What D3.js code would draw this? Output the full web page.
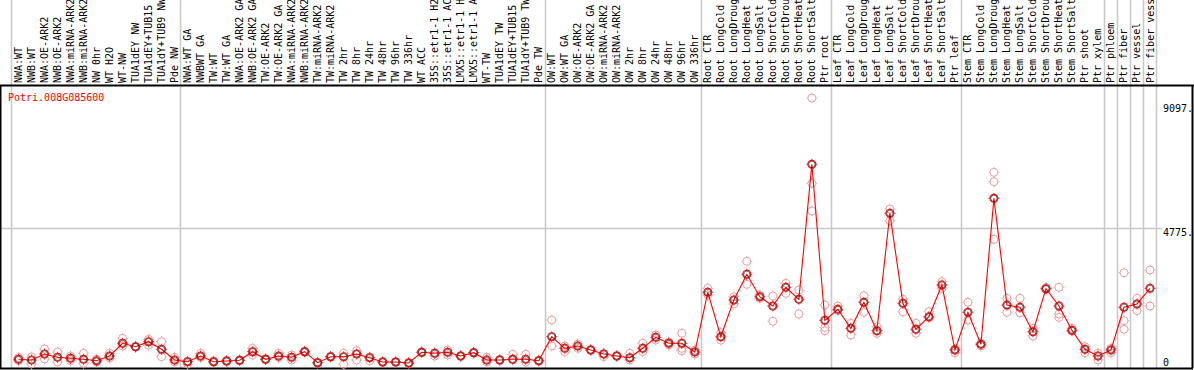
<!DOCTYPE html>
<html>
<head>
<meta charset="utf-8">
<script src="https://cdn.jsdelivr.net/npm/d3@7"></script>
<style>
  body { margin: 0; background: #fff; }
  svg { display: block; }
  text { font-family: "DejaVu Sans Mono", "Liberation Mono", monospace; font-size: 10px; }
</style>
</head>
<body>
<div id="chart"></div>
<script>
// Sample names (column headers)
const samples = [
  'NWA:WT', 'NWB:WT', 'NWA:OE-ARK2', 'NWB:OE-ARK2', 'NWA:miRNA-ARK2', 'NWB:miRNA-ARK2',
  'NW 0hr', 'WT H2O', 'WT-NW', 'TUA1dEY NW', 'TUA1dEY+TUB15', 'TUA1dY+TUB9 NW', 'Pde NW',
  'NWA:WT GA', 'NWBWT GA', 'TW:WT', 'TW:WT GA', 'NWA:OE-ARK2 GA', 'NWB:OE-ARK2 GA',
  'TW:OE-ARK2', 'TW:OE-ARK2 GA', 'NWA:miRNA-ARK2', 'NWB:miRNA-ARK2', 'TW:miRNA-ARK2',
  'TW:miRNA-ARK2', 'TW 2hr', 'TW 8hr', 'TW 24hr', 'TW 48hr', 'TW 96hr', 'TW 336hr', 'WT ACC',
  '35S::etr1-1 H2', '35S::etr1-1 AC', 'LMX5::etr1-1 H', 'LMX5::etr1-1 A', 'WT-TW',
  'TUA1dEY TW', 'TUA1dEY+TUB15', 'TUA1dY+TUB9 TW', 'Pde TW',
  'OW:WT', 'OW:WT GA', 'OW:OE-ARK2', 'OW:OE-ARK2 GA', 'OW:miRNA-ARK2', 'OW:miRNA-ARK2',
  'OW 2hr', 'OW 8hr', 'OW 24hr', 'OW 48hr', 'OW 96hr', 'OW 336hr',
  'Root CTR', 'Root LongCold', 'Root LongDroug', 'Root LongHeat', 'Root LongSalt',
  'Root ShortCold', 'Root ShortDrou', 'Root ShortHeat', 'Root ShortSalt', 'Ptr root',
  'Leaf CTR', 'Leaf LongCold', 'Leaf LongDroug', 'Leaf LongHeat', 'Leaf LongSalt',
  'Leaf ShortCold', 'Leaf ShortDrou', 'Leaf ShortHeat', 'Leaf ShortSalt', 'Ptr leaf',
  'Stem CTR', 'Stem LongCold', 'Stem LongDroug', 'Stem LongHeat', 'Stem LongSalt',
  'Stem ShortCold', 'Stem ShortDrou', 'Stem ShortHeat', 'Stem ShortSalt', 'Ptr shoot',
  'Ptr xylem', 'Ptr phloem', 'Ptr fiber', 'Ptr vessel', 'Ptr fiber vess'
]

// mean expression per sample
const means = [
  199, 174, 383, 268, 233, 199, 150, 314, 756, 638, 812, 547, 174,
  115, 314, 115, 139, 164, 464, 199, 314, 268, 464, 80, 289, 289, 383, 254, 105, 105, 70,
  443, 408, 443, 314, 429, 174, 174, 199, 199, 150,
  986, 582, 662, 523, 383, 314, 254, 582, 965, 756, 756, 453,
  2534, 986, 2265, 3161, 2380, 2056, 2708, 2290, 6994, 1558,
  1941, 1279, 2185, 1195, 5287, 2150, 1244, 1683, 2788, 523,
  1837, 721, 5809, 2091, 2011, 1160, 2659, 2056, 1209, 547,
  314, 523, 2011, 2126, 2673
]

// replicate values per sample
const replicates = [
  [261, 150], [279, 35], [558, 209], [453, 105], [314, 150], [408, 59], [199, 105], [408, 244],
  [930, 662], [638, 620], [896, 687], [812, 289], [268, 105],
  [130, 35], [408, 268], [140, 95], [160, 120], [180, 150], [582, 349], [220, 180], [408, 268],
  [349, 174], [480, 440], [95, 65], [300, 270], [408, 24], [498, 174], [280, 150], [120, 90],
  [120, 90], [85, 55], [460, 430], [420, 314], [523, 349], [330, 300], [445, 415], [268, 105],
  [190, 160], [373, 190], [373, 105], [165, 135],
  [1568, 662], [662, 464], [732, 582], [540, 505], [400, 289], [330, 300], [408, 174],
  [756, 464], [1046, 871], [802, 697], [1105, 582, 498], [523, 383],
  [2673, 2440], [1126, 871], [2380, 2126], [3614, 2812], [2440, 2324], [2405, 1523],
  [2847, 2499], [2614, 1777], [9305, 6332, 5367], [2091, 1314, 1195],
  [2056, 1900], [1453, 1046], [2415, 1837], [1335, 1105], [5437, 5029],
  [2290, 1858], [1453, 1105], [1858, 1650], [2903, 2673], [429, 560],
  [2185, 1568], [662, 760], [6716, 6388, 4381], [2324, 1837], [2324, 1823], [1279, 1011],
  [2638, 2700], [2708, 1777, 1662], [1279, 1180], [638, 429],
  [408, 174], [582, 429], [3217, 1544, 1244], [2324, 1892], [3311, 2056]
]

// index of first sample of each block (vertical separators)
const blockStarts = [0, 13, 41, 53, 63, 73, 84, 85, 86, 87, 88]

const yTicks = [0, 4775, 9097]
const geneName = 'Potri.008G085600'

const width = 1194,
    height = 370,
    plotTop = 85,
    plotBottom = 368,
    plotRight = 1192

let svg = d3.select('#chart')
    .append('svg')
    .attr('width', width)
    .attr('height', height)
    .style('background', '#FFFFFF')

const x = d3.scalePoint()
    .domain(d3.range(samples.length))
    .range([18.5, 1150])

const step = x.step()

const y = d3.scaleLinear()
    .domain([0, 9097])
    .range([365, 104])

// separators between sample blocks
svg.selectAll('line.sep')
    .data(blockStarts)
    .enter()
    .append('line')
    .attr('class', 'sep')
    .attr('x1', d => Math.round(x(0) + (d - 0.55) * step) + 0.5)
    .attr('x2', d => Math.round(x(0) + (d - 0.55) * step) + 0.5)
    .attr('y1', 0)
    .attr('y2', plotBottom)
    .attr('stroke', '#c8c8c8')
    .attr('stroke-width', 1.5)

// horizontal gridline at middle tick
svg.selectAll('line.grid')
    .data(yTicks.filter(d => d > 0 && d < 9097))
    .enter()
    .append('line')
    .attr('class', 'grid')
    .attr('x1', 1)
    .attr('x2', 1162)
    .attr('y1', d => Math.round(y(d)) + 0.5)
    .attr('y2', d => Math.round(y(d)) + 0.5)
    .attr('stroke', '#c8c8c8')
    .attr('stroke-width', 1.5)

// frame
svg.append('path')
    .attr('d', `M0,${plotTop + 0.5}H${width} M${plotRight + 0.5},${plotTop}V${plotBottom} M0,${plotBottom + 0.5}H${plotRight + 1} M0.5,${plotTop}V${plotBottom}`)
    .attr('stroke', '#000')
    .attr('stroke-width', 2)
    .attr('fill', 'none')

// column labels
svg.selectAll('text.sample')
    .data(samples)
    .enter()
    .append('text')
    .attr('class', 'sample')
    .attr('transform', (d, i) => `translate(${x(i) + 3.5},83) rotate(-90)`)
    .attr('fill', '#000')
    .text(d => d)

// y tick labels
svg.selectAll('text.tick')
    .data(yTicks)
    .enter()
    .append('text')
    .attr('class', 'tick')
    .attr('x', 1163)
    .attr('y', d => Math.min(y(d) + 8, 366))
    .attr('fill', '#000')
    .text(d => d === 0 ? '0' : d + '.')

svg.append('text')
    .attr('x', 8)
    .attr('y', 101)
    .attr('fill', '#ff0000')
    .text(geneName)

// marker: circle with small ticks
let marker = (g, color, sw) => {
    g.append('circle').attr('r', 4).attr('fill', 'none').attr('stroke', color).attr('stroke-width', sw)
    g.append('path')
        .attr('d', 'M0,-4V-5.5 M0,4V5.5 M-4,0H-5.5 M4,0H5.5')
        .attr('stroke', color)
        .attr('stroke-width', 0.8)
}

// replicates
const reps = []
replicates.forEach((arr, i) => arr.forEach(v => reps.push({ i: i, v: v })))

svg.selectAll('g.rep')
    .data(reps)
    .enter()
    .append('g')
    .attr('class', 'rep')
    .attr('transform', d => `translate(${x(d.i)},${y(d.v)})`)
    .each(function () { marker(d3.select(this), '#ee9f9f', 1) })

// mean line
const line = d3.line()
    .x((d, i) => x(i))
    .y(d => y(d))

svg.append('path')
    .datum(means)
    .attr('d', line)
    .attr('fill', 'none')
    .attr('stroke', '#ff0000')
    .attr('stroke-width', 1.1)

svg.selectAll('g.mean')
    .data(means)
    .enter()
    .append('g')
    .attr('class', 'mean')
    .attr('transform', (d, i) => `translate(${x(i)},${y(d)})`)
    .each(function () {
        let g = d3.select(this)
        marker(g, '#ff0000', 1.1)
        g.append('circle').attr('r', 3.2).attr('fill', 'none').attr('stroke', '#000').attr('stroke-width', 0.6)
    })
</script>
</body>
</html>
